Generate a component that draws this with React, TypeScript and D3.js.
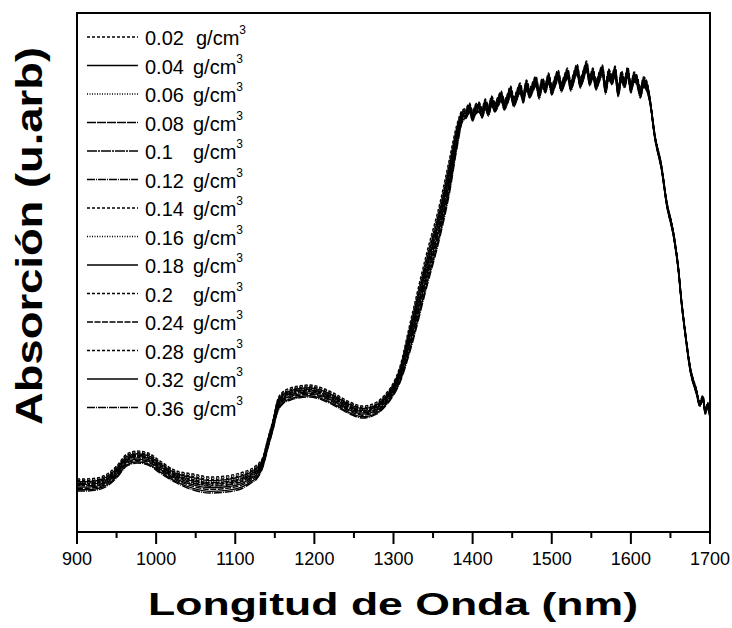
import React from 'react';
import * as d3 from 'd3';

// Legend / series
const concentrations = ['0.02', '0.04', '0.06', '0.08', '0.1', '0.12', '0.14', '0.16', '0.18', '0.2', '0.24', '0.28', '0.32', '0.36'];
const dashPatterns = ['3,2', '', '1,1.5', '9,1', '10,1,2,1', '8,1,1,1', '3,2', '1,1.5', '', '3,2', '6,1.5', '3,2', '', '8,1,1,1'];
// relative position of each series inside the band (-1 bottom .. 1 top)
const seriesOffsets = [1.0, 0.55, 0.85, 0.3, 0.1, -0.15, 0.7, 0.45, -0.35, 0.2, -0.55, -0.05, -0.8, -1.0];

// Mean spectrum (arbitrary units)
const wavelengths = [
  900, 910, 925, 940, 950, 963, 976, 990, 1005, 1026, 1047, 1068, 1089, 1110, 1120, 1127, 1135, 1141, 1148, 1153,
  1160, 1170, 1180, 1194, 1210, 1224, 1245, 1261, 1279, 1290, 1296, 1308, 1321, 1342, 1359, 1371, 1380, 1387,
  1392, 1396, 1400, 1404, 1408, 1412, 1416, 1420, 1424, 1428,
  1432, 1436, 1440, 1444, 1448, 1452, 1456, 1460, 1464, 1468,
  1472, 1476, 1480, 1484, 1488, 1492, 1496, 1500, 1504, 1508,
  1512, 1516, 1520, 1524, 1528, 1532, 1536, 1540, 1544, 1548,
  1552, 1556, 1560, 1564, 1568, 1572, 1576, 1580, 1584, 1588,
  1592, 1596, 1600, 1604, 1608, 1612, 1616, 1620,
  1624, 1630, 1639, 1645, 1654, 1660, 1664, 1669, 1675, 1683, 1687, 1691, 1694, 1697, 1700,
];
const baseAbsorption = [
  47, 47, 48, 53, 60, 72, 75, 73, 65, 55, 50, 47, 48, 52, 56, 60, 70, 88, 108, 125,
  134, 138, 140, 141, 138, 133, 124, 120, 124, 132, 138, 157, 195, 262, 313, 357, 395, 416,
  419, 424, 416, 423, 425, 419, 428, 421, 431, 425,
  430, 436, 427, 433, 441, 430, 437, 444, 434, 447,
  439, 445, 451, 438, 449, 444, 454, 442, 450, 457,
  445, 452, 459, 446, 455, 463, 449, 457, 466, 451,
  459, 447, 455, 462, 443, 458, 452, 461, 440, 456,
  449, 460, 444, 455, 451, 439, 450, 446,
  432, 397, 363, 330, 297, 263, 230, 197, 163, 140, 128, 134, 120, 127, 116,
];
// half-width of the band of curves, from a given wavelength on
const spreadFrom = [900, 1040, 1120, 1135, 1150, 1300, 1315, 1335, 1375, 1385, 1390, 1622];
const spreadAmount = [6, 8, 7, 5, 6, 8, 14, 17, 12, 6, 5, 2.5];

const majorTicks = [900, 1000, 1100, 1200, 1300, 1400, 1500, 1600, 1700];
const minorTicks = [950, 1050, 1150, 1250, 1350, 1450, 1550, 1650];

const FONT = '"Liberation Sans", Arial, Helvetica, sans-serif';

export default function App() {
  const W = 732;
  const H = 628;
  const left = 77, right = 710, top = 13, bottom = 532;
  const x = d3.scaleLinear().domain([900, 1700]).range([left, right]);
  const y = d3.scaleLinear().domain([0, 519]).range([bottom, top]);

  const spreadAt = (w: number) => spreadAmount[Math.max(0, d3.bisectRight(spreadFrom, w) - 1)];

  const series = concentrations.map((c, i) =>
    wavelengths.map((w, k) => ({ w, v: baseAbsorption[k] + seriesOffsets[i] * spreadAt(w) }))
  );

  const line = d3
    .line<{ w: number; v: number }>()
    .x((d) => x(d.w))
    .y((d) => y(d.v))
    .curve(d3.curveMonotoneX);

  const legendX0 = 87, legendX1 = 138, legendTextX = 145, unitX = 193;
  const legendBase0 = 45, legendStep = 28.5;

  return (
    <svg width={W} height={H} style={{ position: 'absolute', left: 0, top: 0, background: '#fff' }} fontFamily={FONT}>
      <rect x={0} y={0} width={W} height={H} fill="#fff" />
      {/* curves */}
      <g fill="none" stroke="#000" strokeWidth={1.4}>
        {series.map((s, i) => (
          <path key={i} d={line(s) || ''} strokeDasharray={dashPatterns[i] || undefined} />
        ))}
      </g>
      {/* frame */}
      <rect x={left} y={top} width={right - left} height={bottom - top} fill="none" stroke="#000" strokeWidth={2} />
      {/* x ticks */}
      <g stroke="#000" strokeWidth={2}>
        {majorTicks.map((t) => (
          <line key={'M' + t} x1={x(t)} x2={x(t)} y1={bottom} y2={bottom + 12} />
        ))}
        {minorTicks.map((t) => (
          <line key={'m' + t} x1={x(t)} x2={x(t)} y1={bottom} y2={bottom + 6} />
        ))}
      </g>
      <g fontSize={18} textAnchor="middle" fill="#000">
        {majorTicks.map((t) => (
          <text key={'l' + t} x={x(t)} y={565}>
            {t}
          </text>
        ))}
      </g>
      {/* legend */}
      <g>
        {concentrations.map((c, i) => {
          const by = legendBase0 + i * legendStep;
          return (
            <g key={'lg' + i}>
              <line
                x1={legendX0}
                x2={legendX1}
                y1={by - 8}
                y2={by - 8}
                stroke="#000"
                strokeWidth={1.5}
                strokeDasharray={dashPatterns[i] || undefined}
              />
              <text x={legendTextX} y={by} fontSize={20} fill="#000">
                {c}
              </text>
              <text x={i === 0 ? unitX + 3 : unitX} y={by} fontSize={20} fill="#000">
                g/cm
                <tspan fontSize={12} dy={-11}>
                  3
                </tspan>
              </text>
            </g>
          );
        })}
      </g>
      {/* axis titles */}
      <text x={148} y={615} fontSize={32} fontWeight="bold" textLength={490} lengthAdjust="spacingAndGlyphs" fill="#000">
        Longitud de Onda (nm)
      </text>
      <text
        transform="translate(42,425) rotate(-90)"
        x={0}
        y={0}
        fontSize={37}
        fontWeight="bold"
        textLength={378}
        lengthAdjust="spacingAndGlyphs"
        fill="#000"
      >
        Absorción (u.arb)
      </text>
    </svg>
  );
}
